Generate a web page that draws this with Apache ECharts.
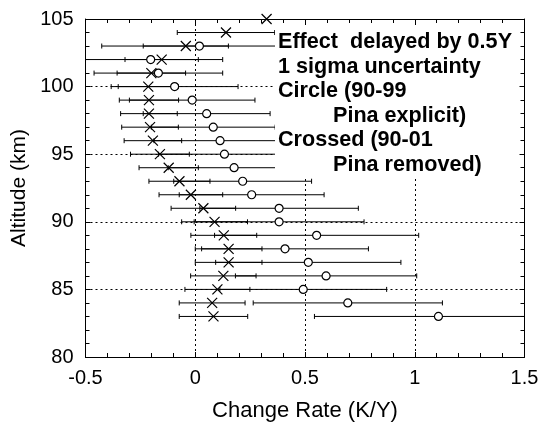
<!DOCTYPE html>
<html><head><meta charset="utf-8">
<script src="https://cdn.jsdelivr.net/npm/echarts@6/dist/echarts.min.js"></script>
<style>html,body{margin:0;padding:0;background:#fff}#c{width:547px;height:427px}</style>
</head><body><div id="c"></div>
<script>
// Crossed series (90-01, Pina removed)
const crossAlt   = [105, 104, 103, 102, 101, 100, 99, 98, 97, 96, 95, 94, 93, 92, 91, 90, 89, 88, 87, 86, 85, 84, 83];
const crossRate  = [0.325, 0.140, -0.043, -0.153, -0.200, -0.214, -0.211, -0.211, -0.206, -0.193, -0.161, -0.121, -0.072, -0.020, 0.037, 0.088, 0.130, 0.152, 0.152, 0.128, 0.101, 0.077, 0.083];
const crossSigma = [0, 0.222, 0.194, 0.167, 0.156, 0.137, 0.135, 0.129, 0.129, 0.131, 0.134, 0.135, 0.139, 0.145, 0.147, 0.150, 0.150, 0.152, 0.152, 0.149, 0.148, 0.150, 0.156];
// Circle series (90-99, Pina explicit)
const circleAlt   = [103, 102, 101, 100, 99, 98, 97, 96, 95, 94, 93, 92, 91, 90, 89, 88, 87, 86, 85, 84, 83];
const circleRate  = [0.019, -0.203, -0.168, -0.094, -0.014, 0.052, 0.082, 0.113, 0.133, 0.177, 0.216, 0.257, 0.382, 0.382, 0.553, 0.409, 0.515, 0.596, 0.492, 0.695, 1.108];
const circleSigma = [0.445, 0.328, 0.293, 0.289, 0.286, 0.289, 0.282, 0.301, 0.300, 0.300, 0.314, 0.330, 0.361, 0.387, 0.465, 0.380, 0.422, 0.413, 0.380, 0.431, 0.565];
// Axis ranges / ticks
const xMin = -0.5, xMax = 1.5, xStep = 0.5;
const yMin = 80, yMax = 105, yStep = 5;
const xTitle = 'Change Rate (K/Y)';
const yTitle = 'Altitude (km)';
const noteLines = ['Effect  delayed by 0.5Y', '1 sigma uncertainty', 'Circle (90-99', 'Pina explicit)', 'Crossed (90-01', 'Pina removed)'];

const chart = echarts.init(document.getElementById('c'));
const FONT = '"Liberation Sans", Arial, sans-serif';

function toRows(alt, rate, sig) { return alt.map((a, i) => [a, rate[i], sig[i]]); }

function errRender(params, api) {
  const y = api.value(0), x = api.value(1), e = api.value(2);
  if (!e) return null;
  const cs = params.coordSys;
  let l = api.coord([x - e, y]), r = api.coord([x + e, y]);
  const h = 2.5;
  const st = { stroke: '#000', lineWidth: 1 };
  const ch = [];
  const lx = Math.max(l[0], cs.x), rx = Math.min(r[0], cs.x + cs.width);
  ch.push({ type: 'line', shape: { x1: lx, y1: l[1], x2: rx, y2: r[1] }, style: st });
  if (l[0] >= cs.x - 0.5) ch.push({ type: 'line', shape: { x1: l[0], y1: l[1] - h, x2: l[0], y2: l[1] + h }, style: st });
  if (r[0] <= cs.x + cs.width + 0.5) ch.push({ type: 'line', shape: { x1: r[0], y1: r[1] - h, x2: r[0], y2: r[1] + h }, style: st });
  return { type: 'group', children: ch };
}

const axisCommon = {
  type: 'value',
  axisLine: { show: true, onZero: false, lineStyle: { color: '#000', width: 1 } },
  axisTick: { show: true, inside: true, length: 5, lineStyle: { color: '#000' } },
  minorTick: { show: true, splitNumber: 5, length: 4, lineStyle: { color: '#000' } },
  splitLine: { show: false }
};

const option = {
  backgroundColor: '#fff',
  animation: false,
  grid: { left: 85.5, right: 22.5, top: 19, bottom: 64, containLabel: false },
  xAxis: [
    Object.assign({}, axisCommon, {
      min: xMin, max: xMax, interval: xStep, position: 'bottom',
      name: xTitle, nameLocation: 'middle', nameGap: 43,
      nameTextStyle: { fontFamily: FONT, fontSize: 22, color: '#000' },
      axisLabel: { fontFamily: FONT, fontSize: 20, color: '#000', margin: 11 },
      splitLine: { show: true, lineStyle: { color: '#000', type: [2, 3], width: 1 } }
    }),
    Object.assign({}, axisCommon, {
      min: xMin, max: xMax, interval: xStep, position: 'top', axisLabel: { show: false }
    })
  ],
  yAxis: [
    Object.assign({}, axisCommon, {
      min: yMin, max: yMax, interval: yStep, position: 'left',
      name: yTitle, nameLocation: 'middle', nameGap: 44, nameRotate: 90,
      nameTextStyle: { fontFamily: FONT, fontSize: 21, color: '#000' },
      axisLabel: { fontFamily: FONT, fontSize: 20, color: '#000', margin: 12 },
      splitLine: { show: true, lineStyle: { color: '#000', type: [2, 3], width: 1 } }
    }),
    Object.assign({}, axisCommon, {
      min: yMin, max: yMax, interval: yStep, position: 'right', axisLabel: { show: false }
    })
  ],
  series: [
    { type: 'custom', renderItem: errRender, data: toRows(circleAlt, circleRate, circleSigma), encode: { x: 1, y: 0 }, z: 3, silent: true },
    { type: 'custom', renderItem: errRender, data: toRows(crossAlt, crossRate, crossSigma), encode: { x: 1, y: 0 }, z: 3, silent: true },
    { type: 'scatter', data: circleAlt.map((a, i) => [circleRate[i], a]), symbol: 'circle', symbolSize: 8,
      itemStyle: { color: '#fff', borderColor: '#000', borderWidth: 1.2, opacity: 1 }, z: 4 },
    { type: 'scatter', data: crossAlt.map((a, i) => [crossRate[i], a]), symbol: 'path://M0,0L10,10M10,0L0,10', symbolSize: 10,
      itemStyle: { color: 'none', borderColor: '#000', borderWidth: 1.2, opacity: 1 }, z: 5 }
  ],
  graphic: [
    { type: 'rect', left: 275, top: 25, z: 100, shape: { width: 244, height: 153 }, style: { fill: '#fff' } },
    { type: 'text', left: 278, top: 31, z: 101, style: { text: noteLines[0], font: 'bold 21.6px ' + FONT, fill: '#000' } },
    { type: 'text', left: 278, top: 56, z: 101, style: { text: noteLines[1], font: 'bold 21.6px ' + FONT, fill: '#000' } },
    { type: 'text', left: 278, top: 80, z: 101, style: { text: noteLines[2], font: 'bold 21.6px ' + FONT, fill: '#000' } },
    { type: 'text', left: 333, top: 105, z: 101, style: { text: noteLines[3], font: 'bold 21.6px ' + FONT, fill: '#000' } },
    { type: 'text', left: 278, top: 129, z: 101, style: { text: noteLines[4], font: 'bold 21.6px ' + FONT, fill: '#000' } },
    { type: 'text', left: 333, top: 154, z: 101, style: { text: noteLines[5], font: 'bold 21.6px ' + FONT, fill: '#000' } }
  ]
};
chart.setOption(option);
</script>
</body></html>
